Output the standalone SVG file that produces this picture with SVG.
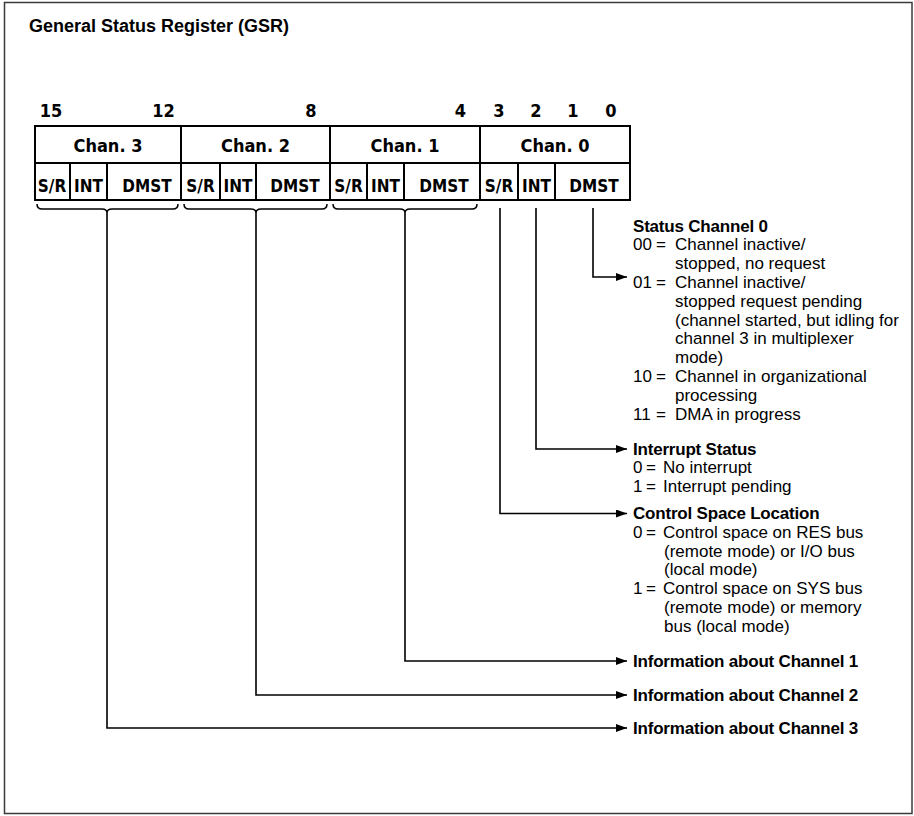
<svg xmlns="http://www.w3.org/2000/svg" width="914" height="816" viewBox="0 0 914 816">
  <style>
    .frame { fill: none; stroke: #3a3a3a; stroke-width: 1.5; }
    .cell { fill: #fff; stroke: #000; stroke-width: 2; }
    .div { stroke: #000; stroke-width: 2; }
    .brace { fill: none; stroke: #000; stroke-width: 1.5; }
    .wire { fill: none; stroke: #000; stroke-width: 1.6; }
    .title { font-family: "Liberation Sans", Arial, sans-serif; font-weight: bold; font-size: 18px; fill: #000; }
    .cond { font-family: "Liberation Sans Narrow", "DejaVu Sans Condensed", "Liberation Sans", sans-serif; font-weight: bold; font-size: 17px; fill: #000; text-anchor: middle; }
    .big { font-size: 18px; }
    .head { font-family: "Liberation Sans", Arial, sans-serif; font-weight: bold; font-size: 17px; letter-spacing: -0.2px; fill: #000; }
    .body { font-family: "Liberation Sans", Arial, sans-serif; font-size: 17px; fill: #000; }
  </style>
  <defs>
    <marker id="arrow" markerUnits="userSpaceOnUse" markerWidth="11" markerHeight="8" refX="11" refY="4" orient="auto">
      <path d="M0,0 L11,4 L0,8 z" fill="#000"/>
    </marker>
  </defs>

  <!-- outer frame -->
  <rect class="frame" x="4.5" y="2.5" width="907.5" height="811"/>

  <text class="title" x="29" y="32">General Status Register (GSR)</text>

  <!-- 16-bit register -->
  <g id="register">
    <rect class="cell" x="35" y="126" width="595" height="74"/>
    <line class="div" x1="35" y1="163" x2="630" y2="163"/>
    <line class="div" x1="181" y1="126" x2="181" y2="200"/>
    <line class="div" x1="330" y1="126" x2="330" y2="200"/>
    <line class="div" x1="480" y1="126" x2="480" y2="200"/>
    <g id="bit-numbers">
      <text class="cond big" x="51" y="117">15</text>
      <text class="cond big" x="163.5" y="117">12</text>
      <text class="cond big" x="311" y="117">8</text>
      <text class="cond big" x="460.5" y="117">4</text>
      <text class="cond big" x="499" y="117">3</text>
      <text class="cond big" x="536" y="117">2</text>
      <text class="cond big" x="573" y="117">1</text>
      <text class="cond big" x="611" y="117">0</text>
    </g>
  </g>

  <g id="chan3">
    <text class="cond big" x="108" y="152">Chan. 3</text>
    <line class="div" x1="70" y1="163" x2="70" y2="200"/>
    <line class="div" x1="107" y1="163" x2="107" y2="200"/>
    <text class="cond" x="52" y="191.5">S/R</text>
    <text class="cond" x="88.5" y="191.5">INT</text>
    <text class="cond" x="147" y="191.5">DMST</text>
    <path class="brace" d="M37,204 Q37,209 42,209 L102,209 Q107,209 107,213 Q107,209 112,209 L173,209 Q178,209 178,204"/>
  </g>

  <g id="chan2">
    <text class="cond big" x="255.5" y="152">Chan. 2</text>
    <line class="div" x1="220" y1="163" x2="220" y2="200"/>
    <line class="div" x1="256" y1="163" x2="256" y2="200"/>
    <text class="cond" x="200.5" y="191.5">S/R</text>
    <text class="cond" x="238" y="191.5">INT</text>
    <text class="cond" x="295" y="191.5">DMST</text>
    <path class="brace" d="M184,204 Q184,209 189,209 L251,209 Q256,209 256,213 Q256,209 261,209 L322,209 Q327,209 327,204"/>
  </g>

  <g id="chan1">
    <text class="cond big" x="405" y="152">Chan. 1</text>
    <line class="div" x1="367" y1="163" x2="367" y2="200"/>
    <line class="div" x1="404" y1="163" x2="404" y2="200"/>
    <text class="cond" x="348.5" y="191.5">S/R</text>
    <text class="cond" x="385.5" y="191.5">INT</text>
    <text class="cond" x="444" y="191.5">DMST</text>
    <path class="brace" d="M333,204 Q333,209 338,209 L400,209 Q405,209 405,213 Q405,209 410,209 L472,209 Q477,209 477,204"/>
  </g>

  <g id="chan0">
    <text class="cond big" x="555" y="152">Chan. 0</text>
    <line class="div" x1="518" y1="163" x2="518" y2="200"/>
    <line class="div" x1="555" y1="163" x2="555" y2="200"/>
    <text class="cond" x="499" y="191.5">S/R</text>
    <text class="cond" x="536.5" y="191.5">INT</text>
    <text class="cond" x="594" y="191.5">DMST</text>
  </g>

  <!-- leader lines from the fields to their descriptions -->
  <g id="connectors">
    <path class="wire" d="M593,208 V277 H627" marker-end="url(#arrow)"/>
    <path class="wire" d="M536,208 V449 H627" marker-end="url(#arrow)"/>
    <path class="wire" d="M500,208 V513.5 H627" marker-end="url(#arrow)"/>
    <path class="wire" d="M405,213 V661 H627" marker-end="url(#arrow)"/>
    <path class="wire" d="M256,213 V695 H627" marker-end="url(#arrow)"/>
    <path class="wire" d="M107,213 V728 H627" marker-end="url(#arrow)"/>
  </g>

  <g id="status-channel-0">
    <text class="head" x="633" y="231.5">Status Channel 0</text>
    <text class="body" y="250.3"><tspan x="633">00</tspan><tspan x="656">=</tspan><tspan x="675">Channel inactive/</tspan></text>
    <text class="body" x="675" y="269.1">stopped, no request</text>
    <text class="body" y="287.9"><tspan x="633">01</tspan><tspan x="656">=</tspan><tspan x="675">Channel inactive/</tspan></text>
    <text class="body" x="675" y="306.7">stopped request pending</text>
    <text class="body" x="675" y="325.5">(channel started, but idling for</text>
    <text class="body" x="675" y="344.3">channel 3 in multiplexer</text>
    <text class="body" x="675" y="363.1">mode)</text>
    <text class="body" y="381.9"><tspan x="633">10</tspan><tspan x="656">=</tspan><tspan x="675">Channel in organizational</tspan></text>
    <text class="body" x="675" y="400.7">processing</text>
    <text class="body" y="419.5"><tspan x="633">11</tspan><tspan x="656">=</tspan><tspan x="675">DMA in progress</tspan></text>
  </g>

  <g id="interrupt-status">
    <text class="head" x="633" y="454.5">Interrupt Status</text>
    <text class="body" y="473.3"><tspan x="633">0</tspan><tspan x="646">=</tspan><tspan x="663">No interrupt</tspan></text>
    <text class="body" y="492.1"><tspan x="633">1</tspan><tspan x="646">=</tspan><tspan x="663">Interrupt pending</tspan></text>
  </g>

  <g id="control-space-location">
    <text class="head" x="633" y="519">Control Space Location</text>
    <text class="body" y="537.8"><tspan x="633">0</tspan><tspan x="646">=</tspan><tspan x="663">Control space on RES bus</tspan></text>
    <text class="body" x="664" y="556.6">(remote mode) or I/O bus</text>
    <text class="body" x="664" y="575.4">(local mode)</text>
    <text class="body" y="594.2"><tspan x="633">1</tspan><tspan x="646">=</tspan><tspan x="663">Control space on SYS bus</tspan></text>
    <text class="body" x="664" y="613">(remote mode) or memory</text>
    <text class="body" x="664" y="631.8">bus (local mode)</text>
  </g>

  <g id="info-channel-1">
    <text class="head" x="633" y="666.5">Information about Channel 1</text>
  </g>
  <g id="info-channel-2">
    <text class="head" x="633" y="700.5">Information about Channel 2</text>
  </g>
  <g id="info-channel-3">
    <text class="head" x="633" y="733.5">Information about Channel 3</text>
  </g>
</svg>
